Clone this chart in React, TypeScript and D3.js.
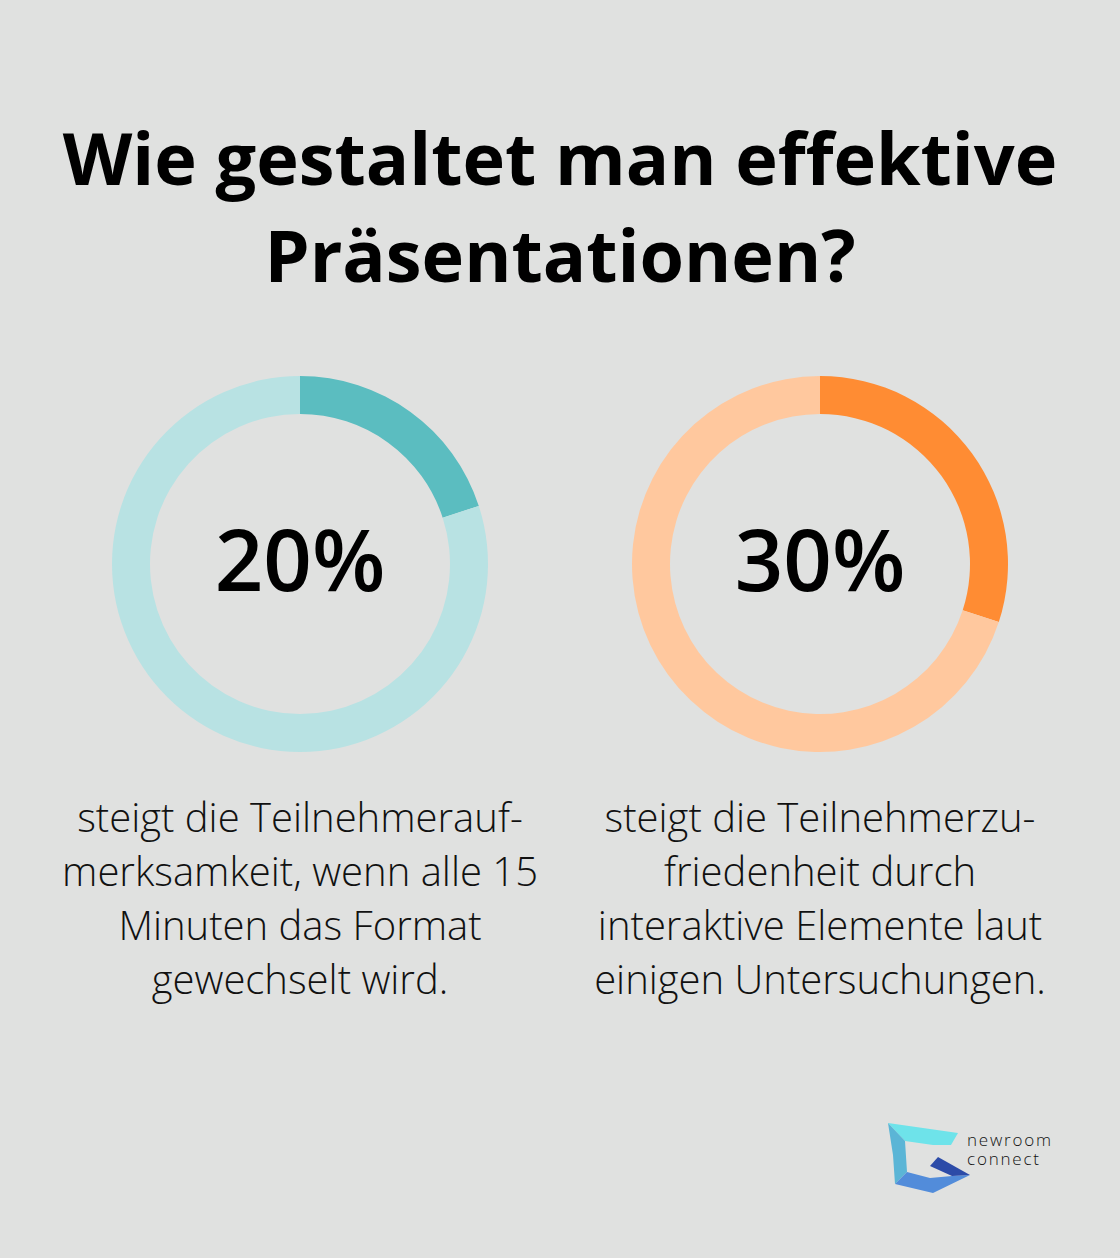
import React from "react";
import * as d3 from "d3";

const titleLines = ["Wie gestaltet man effektive", "Präsentationen?"];
const values = [20, 30];
const valueLabels = ["20%", "30%"];
const mainColors = ["#5BBDC0", "#FF8C33"];
const lightColors = ["#B8E2E3", "#FFC89E"];
const captions = [
  ["steigt die Teilnehmerauf-", "merksamkeit, wenn alle 15", "Minuten das Format", "gewechselt wird."],
  ["steigt die Teilnehmerzu-", "friedenheit durch", "interaktive Elemente laut", "einigen Untersuchungen."],
];
const logoWords = ["newroom", "connect"];

const W = 1120;
const H = 1258;
const FONT = "'Open Sans', 'Noto Sans', sans-serif";

export default function App() {
  const x = d3.scalePoint<number>().domain([0, 1]).range([300, 820]);
  const cy = 564;
  const arc = d3.arc<d3.PieArcDatum<number>>().innerRadius(150).outerRadius(188);
  const pie = d3.pie<number>().sort(null).value((d) => d);

  return (
    <svg
      width={W}
      height={H}
      viewBox={`0 0 ${W} ${H}`}
      style={{ position: "absolute", left: 0, top: 0, display: "block" }}
    >
      <rect x={0} y={0} width={W} height={H} fill="#E0E1E0" />
      {titleLines.map((t, i) => (
        <text
          key={i}
          x={W / 2}
          y={185 + i * 97}
          textAnchor="middle"
          fontFamily={FONT}
          fontWeight={700}
          fontSize={72}
          fill="#000"
        >
          {t}
        </text>
      ))}
      {values.map((v, i) => {
        const arcs = pie([v, 100 - v]);
        const cx = x(i)!;
        return (
          <g key={i} transform={`translate(${cx},${cy})`}>
            {arcs.map((a, j) => (
              <path key={j} d={arc(a)!} fill={j === 0 ? mainColors[i] : lightColors[i]} />
            ))}
            <text
              x={0}
              y={27}
              textAnchor="middle"
              fontFamily={FONT}
              fontWeight={600}
              fontSize={85}
              fill="#000"
            >
              {valueLabels[i]}
            </text>
            {captions[i].map((c, k) => (
              <text
                key={k}
                x={0}
                y={268 + k * 54}
                textAnchor="middle"
                fontFamily={FONT}
                fontWeight={300}
                fontSize={40}
                fill="#111"
              >
                {c}
              </text>
            ))}
          </g>
        );
      })}
      <g>
        <polygon points="888,1123 958,1133 951,1145 933,1145 905,1141" fill="#6EE3EA" />
        <polygon points="888,1123 905,1141 907,1172 895,1184 893,1155" fill="#5BB5D6" />
        <polygon points="895,1184 907,1172 930,1178 952,1176 970,1175 933,1193" fill="#528CDA" />
        <polygon points="938,1157 970,1175 952,1176 930,1166" fill="#2C4BA8" />
        <text
          fontFamily={FONT}
          fontWeight={300}
          fontSize={17}
          letterSpacing={1.8}
          fill="#111"
        >
          {logoWords.map((w, i) => (
            <tspan key={i} x={967} y={1146 + i * 19}>
              {w}
            </tspan>
          ))}
        </text>
      </g>
    </svg>
  );
}
